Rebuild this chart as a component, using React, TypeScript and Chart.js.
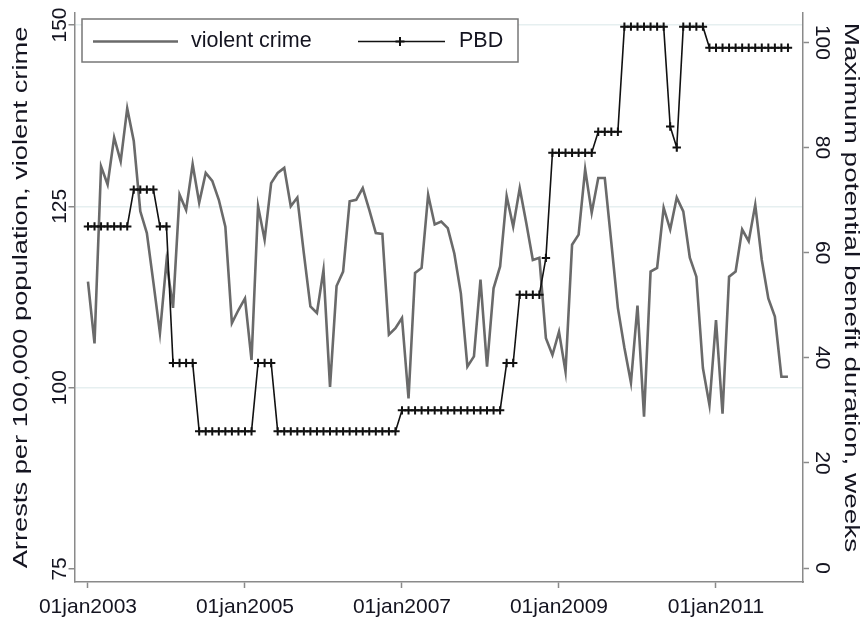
import React, { useEffect, useRef } from 'react';
import { Chart, registerables } from 'chart.js';

Chart.register(...registerables);

// Month index 0 = Jan 2003 ... 107 = Dec 2011
const xTickValues = [0, 24, 48, 72, 96];
const xTickLabels = ['01jan2003', '01jan2005', '01jan2007', '01jan2009', '01jan2011'];
const leftTicks = [75, 100, 125, 150];
const rightTicks = [0, 20, 40, 60, 80, 100];

const violentCrime = [
  114.6, 106.1, 130.5, 128.0, 134.5, 131.2, 138.5, 134.0, 124.3, 121.3, 114.5, 107.5,
  117.4, 111.0, 126.6, 124.5, 130.8, 125.5, 129.6, 128.5, 125.9, 122.2, 108.9, 110.7,
  112.3, 103.8, 125.0, 120.4, 128.2, 129.6, 130.3, 125.0, 126.2, 118.5, 111.2, 110.3,
  116.2, 100.1, 114.0, 116.0, 125.7, 125.9, 127.5, 124.5, 121.3, 121.2, 107.3, 108.2,
  109.6, 98.5, 115.8, 116.5, 126.6, 122.5, 122.9, 122.0, 118.5, 113.0, 102.9, 104.3,
  114.9, 102.9, 113.7, 116.7, 126.4, 122.2, 127.5, 122.7, 117.6, 117.9, 106.8, 104.5,
  107.7, 102.2, 119.7, 121.1, 130.1, 124.1, 128.9, 128.9, 120.0, 111.0, 105.5, 100.7,
  111.3, 96.0, 116.0, 116.5, 124.8, 121.8, 126.2, 124.3, 117.9, 115.3, 102.7, 97.6,
  109.3, 96.4, 115.3, 116.0, 121.8, 120.2, 125.2, 117.6, 112.3, 109.8, 101.5, 101.5,
];

const pbd = [
  65, 65, 65, 65, 65, 65, 65, 72, 72, 72, 72, 65,
  65, 39, 39, 39, 39, 26, 26, 26, 26, 26, 26, 26,
  26, 26, 39, 39, 39, 26, 26, 26, 26, 26, 26, 26,
  26, 26, 26, 26, 26, 26, 26, 26, 26, 26, 26, 26,
  30, 30, 30, 30, 30, 30, 30, 30, 30, 30, 30, 30,
  30, 30, 30, 30, 39, 39, 52, 52, 52, 52, 59, 79,
  79, 79, 79, 79, 79, 79, 83, 83, 83, 83, 103, 103,
  103, 103, 103, 103, 103, 84, 80, 103, 103, 103, 103, 99,
  99, 99, 99, 99, 99, 99, 99, 99, 99, 99, 99, 99,
];

const CRIME_COLOR = '#6a6a6a';
const PBD_COLOR = '#111111';
const AXIS_COLOR = '#8a8a8a';
const GRID_COLOR = '#e6eff0';
const TEXT_COLOR = '#141420';
const FONT = '"Liberation Sans", Arial, Helvetica, sans-serif';

const overlayPlugin = {
  id: 'overlayPlugin',
  afterDraw(chart: any) {
    const ctx = chart.ctx as CanvasRenderingContext2D;
    const { left, right, top, bottom } = chart.chartArea;
    const xs = chart.scales.x;
    const yl = chart.scales.y;
    const yr = chart.scales.y1;
    ctx.save();
    ctx.fillStyle = TEXT_COLOR;
    ctx.textAlign = 'center';
    ctx.textBaseline = 'middle';

    // x tick labels
    ctx.font = `21px ${FONT}`;
    xTickValues.forEach((v, i) => {
      ctx.fillText(xTickLabels[i], xs.getPixelForValue(v), bottom + 25);
    });
    // left tick labels (rotated)
    leftTicks.forEach((v) => {
      const y = yl.getPixelForValue(v);
      ctx.save();
      ctx.translate(left - 14, y);
      ctx.rotate(-Math.PI / 2);
      ctx.fillText(String(v), 0, 0);
      ctx.restore();
    });
    // right tick labels (rotated)
    rightTicks.forEach((v) => {
      const y = yr.getPixelForValue(v);
      ctx.save();
      ctx.translate(right + 19, y);
      ctx.rotate(Math.PI / 2);
      ctx.fillText(String(v), 0, 0);
      ctx.restore();
    });

    // axis titles
    const midY = (top + bottom) / 2;
    ctx.font = `21px ${FONT}`;
    ctx.save();
    ctx.translate(21, midY);
    ctx.rotate(-Math.PI / 2);
    ctx.scale(1.3, 1);
    ctx.fillText('Arrests per 100,000 population, violent crime', 0, 0);
    ctx.restore();
    ctx.save();
    ctx.translate(851, midY - 10);
    ctx.rotate(Math.PI / 2);
    ctx.scale(1.33, 1);
    ctx.fillText('Maximum potential benefit duration, weeks', 0, 0);
    ctx.restore();

    // legend
    const bx = 82, by = 19, bw = 436, bh = 43;
    ctx.fillStyle = '#ffffff';
    ctx.fillRect(bx, by, bw, bh);
    ctx.strokeStyle = '#777777';
    ctx.lineWidth = 1.5;
    ctx.strokeRect(bx, by, bw, bh);
    const ly = by + bh / 2 + 1;
    ctx.strokeStyle = CRIME_COLOR;
    ctx.lineWidth = 2.6;
    ctx.beginPath();
    ctx.moveTo(93, ly);
    ctx.lineTo(178, ly);
    ctx.stroke();
    ctx.strokeStyle = PBD_COLOR;
    ctx.lineWidth = 1.5;
    ctx.beginPath();
    ctx.moveTo(358, ly);
    ctx.lineTo(445, ly);
    ctx.stroke();
    ctx.lineWidth = 2;
    ctx.beginPath();
    ctx.moveTo(400, ly - 4.5);
    ctx.lineTo(400, ly + 4.5);
    ctx.moveTo(395.5, ly);
    ctx.lineTo(404.5, ly);
    ctx.stroke();
    ctx.fillStyle = TEXT_COLOR;
    ctx.textAlign = 'left';
    ctx.font = `21.5px ${FONT}`;
    ctx.fillText('violent crime', 191, ly);
    ctx.fillText('PBD', 459, ly);
    ctx.restore();
  },
};

export default function App() {
  const canvasRef = useRef<HTMLCanvasElement | null>(null);

  useEffect(() => {
    if (!canvasRef.current) return;
    document.body.style.margin = '0';
    const crimePoints = violentCrime.map((v, i) => ({ x: i, y: v }));
    const pbdPoints = pbd.map((v, i) => ({ x: i, y: v }));

    const chart = new Chart(canvasRef.current, {
      type: 'line',
      data: {
        datasets: [
          {
            label: 'violent crime',
            data: crimePoints,
            yAxisID: 'y',
            borderColor: CRIME_COLOR,
            borderWidth: 2.6,
            pointRadius: 0,
            tension: 0,
            fill: false,
            order: 1,
          },
          {
            label: 'PBD',
            data: pbdPoints,
            yAxisID: 'y1',
            borderColor: PBD_COLOR,
            borderWidth: 1.6,
            pointStyle: 'cross',
            pointRadius: 4.2,
            pointBorderColor: PBD_COLOR,
            pointBorderWidth: 2,
            pointBackgroundColor: PBD_COLOR,
            tension: 0,
            fill: false,
            order: 0,
          },
        ],
      },
      plugins: [overlayPlugin],
      options: {
        responsive: false,
        animation: false,
        events: [],
        layout: { padding: { top: 13, left: 0, right: 0, bottom: 0 } },
        plugins: {
          legend: { display: false },
          tooltip: { enabled: false },
          title: { display: false },
        },
        scales: {
          x: {
            type: 'linear',
            min: -2.06,
            max: 109.3,
            afterBuildTicks: (scale: any) => {
              scale.ticks = xTickValues.map((v) => ({ value: v }));
            },
            afterFit: (scale: any) => {
              scale.height = 38;
            },
            ticks: { display: false },
            grid: {
              drawOnChartArea: false,
              drawTicks: true,
              tickLength: 6,
              tickColor: AXIS_COLOR,
              tickWidth: 1.5,
            },
            border: { display: true, color: AXIS_COLOR, width: 1.5 },
          },
          y: {
            type: 'linear',
            position: 'left',
            min: 73.2,
            max: 151.65,
            afterBuildTicks: (scale: any) => {
              scale.ticks = leftTicks.map((v) => ({ value: v }));
            },
            afterFit: (scale: any) => {
              scale.width = 74.5;
            },
            ticks: { display: false },
            grid: {
              drawOnChartArea: true,
              drawTicks: true,
              tickLength: 6,
              color: (c: any) => (c.tick && c.tick.value === 75 ? 'rgba(0,0,0,0)' : GRID_COLOR),
              lineWidth: 1.5,
              tickColor: AXIS_COLOR,
              tickWidth: 1.5,
            },
            border: { display: true, color: AXIS_COLOR, width: 1.5 },
          },
          y1: {
            type: 'linear',
            position: 'right',
            min: -2.66,
            max: 105.6,
            afterBuildTicks: (scale: any) => {
              scale.ticks = rightTicks.map((v) => ({ value: v }));
            },
            afterFit: (scale: any) => {
              scale.width = 63;
            },
            ticks: { display: false },
            grid: {
              drawOnChartArea: false,
              drawTicks: true,
              tickLength: 6,
              tickColor: AXIS_COLOR,
              tickWidth: 1.5,
            },
            border: { display: true, color: AXIS_COLOR, width: 1.5 },
          },
        },
      },
    });
    return () => chart.destroy();
  }, []);

  return (
    <div style={{ width: 866, height: 620 }}>
      <canvas ref={canvasRef} width={866} height={620} style={{ display: 'block' }} />
    </div>
  );
}
